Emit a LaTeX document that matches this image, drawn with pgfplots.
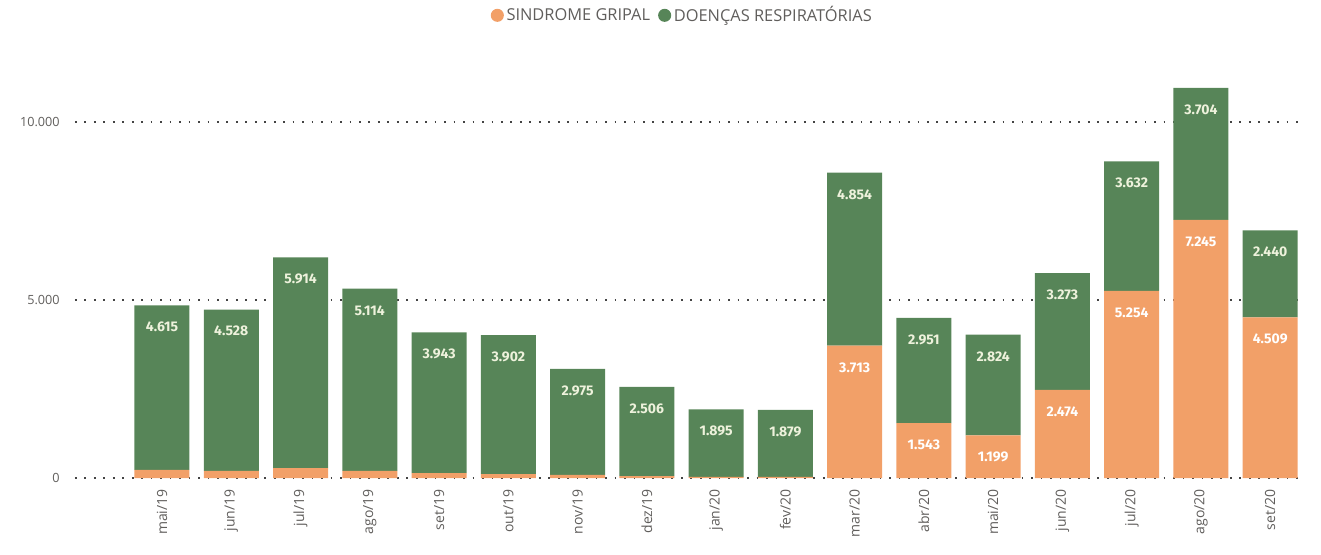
\documentclass[border=0pt]{standalone}
\usepackage{fontspec}
\setmainfont{Open Sans}
\newfontfamily\labfont{Fira Sans}
\usepackage{pgfplots}
\usepackage{pgfplotstable}
\pgfplotsset{compat=1.18}
\definecolor{gripal}{HTML}{F2A068}
\definecolor{resp}{HTML}{578558}
\definecolor{ticktxt}{HTML}{605E5C}
\definecolor{gridc}{HTML}{444444}
\definecolor{labgreen}{HTML}{EEF2DC}

% mes, sindrome gripal, doencas respiratorias
\pgfplotstableread{
x gripal resp
0 230 4615
1 200 4528
2 280 5914
3 200 5114
4 140 3943
5 110 3902
6 90 2975
7 50 2506
8 30 1895
9 30 1879
10 3713 4854
11 1543 2951
12 1199 2824
13 2474 3273
14 5254 3632
15 7245 3704
16 4509 2440
}\casos

% label only values large enough to fit inside the bar
\newcommand{\biglabel}{%
  \pgfmathfloattofixed{\pgfplotspointmeta}%
  \ifdim\pgfmathresult pt>1000pt \pgfmathprintnumber{\pgfplotspointmeta}\fi}

\pgfplotsset{
  base/.style={
    scale only axis,
    width=918.75pt, height=294pt,
    xmin=-1.256, xmax=16.43,
    ymin=0, ymax=11000,
    /pgf/number format/1000 sep={.},
    /pgf/number format/fixed,
    /pgf/number format/precision=0,
    /pgf/number format/assume math mode=true,
  }
}

\begin{document}
\begin{tikzpicture}
\begin{axis}[
  base,
  name=main,
  ybar stacked, bar width=41.25pt,
  ytick={0,5000,10000},
  xtick={0,...,16},
  xticklabels={mai/19,jun/19,jul/19,ago/19,set/19,out/19,nov/19,dez/19,jan/20,fev/20,mar/20,abr/20,mai/20,jun/20,jul/20,ago/20,set/20},
  xticklabel style={rotate=90, anchor=east, font=\fontsize{10.5}{11}\selectfont, text=ticktxt},
  xticklabel shift=5pt,
  yticklabel style={font=\fontsize{9.5}{10}\selectfont, text=ticktxt, xshift=-8pt},
  scaled y ticks=false,
  axis line style={draw=none},
  major tick length=0pt,
  ymajorgrids,
  grid style={gridc, line width=1.3pt, dash pattern=on 1.3pt off 5.8pt},
  legend style={at={(0.496,1)}, anchor=center, yshift=53pt, draw=none,
    font=\fontsize{12.3}{13}\selectfont, text=ticktxt,
    /tikz/every even column/.append style={column sep=4pt}},
  legend columns=2,
  legend image code/.code={\fill[#1] (0pt,0pt) circle (4.9pt);},
]
\addplot[fill=gripal, draw=none] table[x=x, y=gripal] {\casos};
\addlegendentry{SINDROME GRIPAL}
\addplot[fill=resp, draw=none] table[x=x, y=resp] {\casos};
\addlegendentry{DOENÇAS RESPIRATÓRIAS}
\end{axis}
% value labels at the top of each segment
\begin{axis}[
  base,
  at={(main.south west)}, anchor=south west,
  hide axis,
  point meta=explicit,
  nodes near coords={\biglabel},
  every node near coord/.append style={anchor=north, yshift=-9pt,
    font=\labfont\bfseries\fontsize{10.5}{11}\selectfont},
]
\addplot[draw=none, mark=none, every node near coord/.append style={text=white}]
  table[x=x, y=gripal, meta=gripal] {\casos};
\addplot[draw=none, mark=none, every node near coord/.append style={text=labgreen}]
  table[x=x, y expr=\thisrow{gripal}+\thisrow{resp}, meta=resp] {\casos};
\end{axis}
\pgfresetboundingbox
\path ([shift={(-56.25pt,-57pt)}]main.south west) rectangle ([shift={(15.75pt,64.5pt)}]main.north east);
\end{tikzpicture}
\end{document}
